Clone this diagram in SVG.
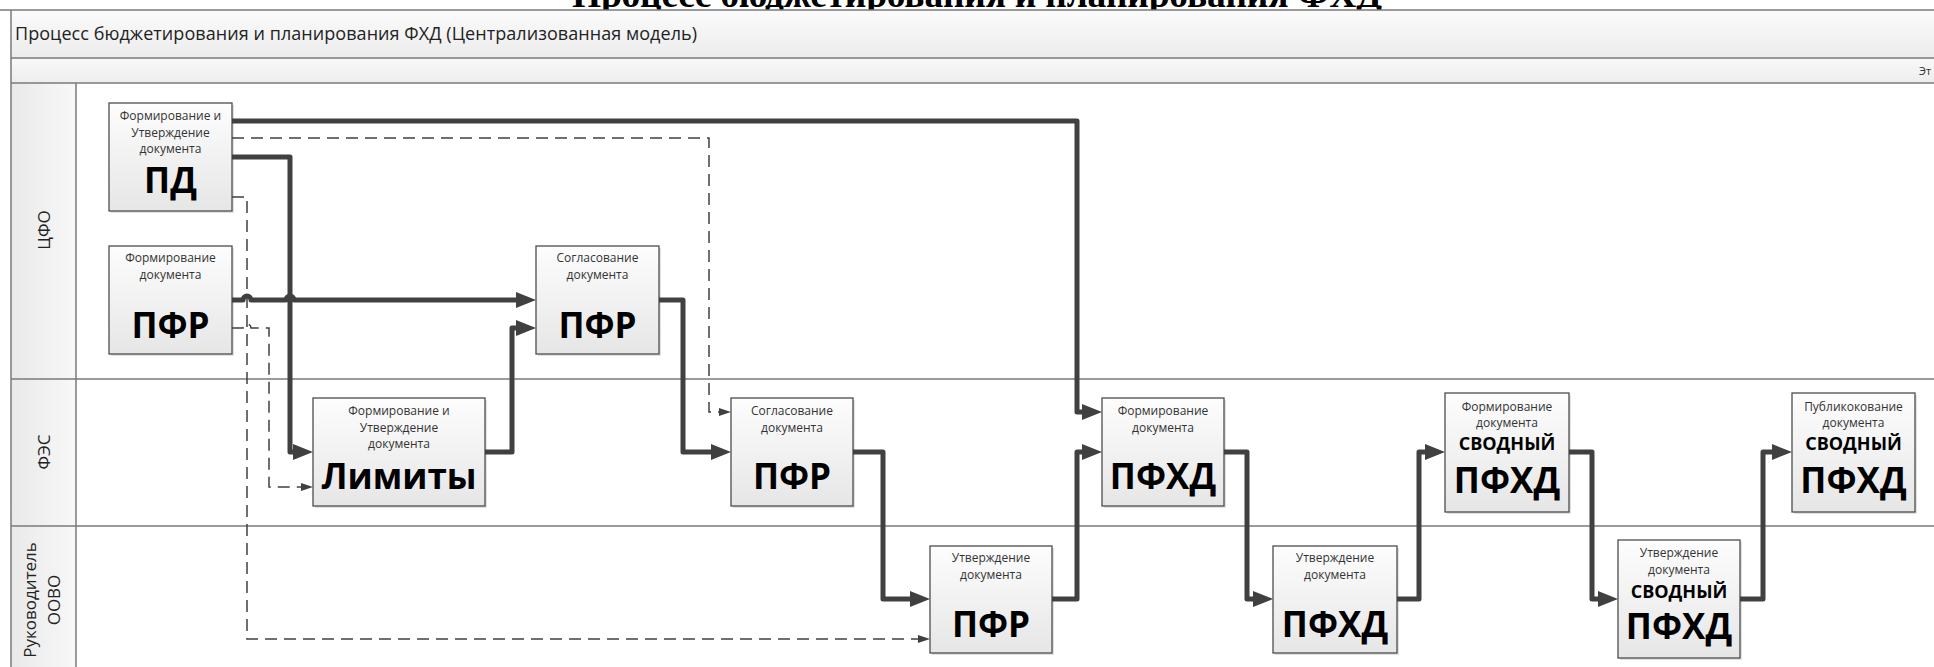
<svg xmlns="http://www.w3.org/2000/svg" width="1934" height="667" viewBox="0 0 1934 667">
<defs>
<linearGradient id="boxFill" x1="0" y1="0" x2="0" y2="1">
<stop offset="0" stop-color="#fdfdfd"/>
<stop offset="1" stop-color="#e6e6e6"/>
</linearGradient>
<linearGradient id="headFill" x1="0" y1="0" x2="0" y2="1">
<stop offset="0" stop-color="#fbfbfb"/>
<stop offset="1" stop-color="#ececec"/>
</linearGradient>
<linearGradient id="phaseFill" x1="0" y1="0" x2="0" y2="1">
<stop offset="0" stop-color="#f8f8f8"/>
<stop offset="1" stop-color="#eeeeee"/>
</linearGradient>
<linearGradient id="laneFill" x1="0" y1="0" x2="1" y2="0">
<stop offset="0" stop-color="#e9e9e9"/>
<stop offset="1" stop-color="#f8f8f8"/>
</linearGradient>
<marker id="arrowThick" markerUnits="userSpaceOnUse" viewBox="0 0 20 16" markerWidth="20" markerHeight="16" refX="4" refY="8" orient="auto">
<path d="M0,0 L20,8 L0,16 z" fill="#404040"/>
</marker>
<marker id="arrowThin" markerUnits="userSpaceOnUse" viewBox="0 0 12 8" markerWidth="12" markerHeight="8" refX="1" refY="4" orient="auto">
<path d="M0,0 L12,4 L0,8 z" fill="#404040"/>
</marker>
<style>
.box{fill:url(#boxFill);stroke:#4d4d4d;stroke-width:1.3}
.shadow{fill:#d4d4d4;opacity:0.7}
.sm{font-family:"Open Sans","Noto Sans",sans-serif;font-size:12px;fill:#333;text-anchor:middle}
.big{font-family:"Open Sans","Noto Sans",sans-serif;font-size:35px;font-weight:bold;fill:#000;text-anchor:middle}
.mid{font-family:"Open Sans","Noto Sans",sans-serif;font-size:18px;font-weight:bold;fill:#000;text-anchor:middle}
.lane{font-family:"Open Sans","Noto Sans",sans-serif;font-size:17px;fill:#222;text-anchor:middle;dominant-baseline:central}
.sep{stroke:#7a7a7a;stroke-width:1.5;fill:none}
.thick{fill:none;stroke:#404040;stroke-width:5;stroke-linejoin:round;marker-end:url(#arrowThick)}
.dash{fill:none;stroke:#404040;stroke-width:1.5;stroke-dasharray:12 7;marker-end:url(#arrowThin)}
</style>
</defs>

<rect x="0" y="0" width="1934" height="667" fill="#ffffff"/>

<g id="title">
<text x="977" y="7" font-family="Liberation Serif, serif" font-size="37.5" font-weight="bold" text-anchor="middle" fill="#000" textLength="810">Процесс бюджетирования и планирования ФХД</text>
</g>

<g id="pool">
<rect x="11" y="10" width="1930" height="48" fill="url(#headFill)"/>
<rect x="11" y="58" width="1930" height="25" fill="url(#phaseFill)"/>
<rect x="11" y="83" width="65" height="590" fill="url(#laneFill)"/>
<line class="sep" x1="0" y1="10" x2="1934" y2="10"/>
<line class="sep" x1="11" y1="58" x2="1934" y2="58"/>
<line class="sep" x1="11" y1="83" x2="1934" y2="83"/>
<line class="sep" x1="11" y1="379" x2="1934" y2="379"/>
<line class="sep" x1="11" y1="526" x2="1934" y2="526"/>
<line class="sep" x1="11" y1="10" x2="11" y2="667"/>
<line class="sep" x1="76" y1="83" x2="76" y2="667"/>
<text x="15" y="40" font-family="Open Sans, Noto Sans, sans-serif" font-size="18" fill="#222" textLength="682">Процесс бюджетирования и планирования ФХД (Централизованная модель)</text>
<text x="1919" y="75" font-family="Open Sans, Noto Sans, sans-serif" font-size="11" fill="#333">Эт</text>
<text class="lane" transform="translate(43,230) rotate(-90)">ЦФО</text>
<text class="lane" transform="translate(43,452) rotate(-90)">ФЭС</text>
<text class="lane" transform="translate(29,600) rotate(-90)">Руководитель</text>
<text class="lane" transform="translate(53,600) rotate(-90)">ООВО</text>
</g>

<g id="node-pd">
<rect class="shadow" x="111" y="105" width="123" height="108"/>
<rect class="box" x="109" y="103" width="123" height="108"/>
<text class="sm" x="170.5" y="120">Формирование и</text>
<text class="sm" x="170.5" y="137">Утверждение</text>
<text class="sm" x="170.5" y="153">документа</text>
<text class="big" x="170.5" y="193">ПД</text>
</g>

<g id="node-pfr-form">
<rect class="shadow" x="111" y="248" width="123" height="108"/>
<rect class="box" x="109" y="246" width="123" height="108"/>
<text class="sm" x="170.5" y="262">Формирование</text>
<text class="sm" x="170.5" y="279">документа</text>
<text class="big" x="170.5" y="338">ПФР</text>
</g>

<g id="node-pfr-agree-cfo">
<rect class="shadow" x="538" y="248" width="123" height="108"/>
<rect class="box" x="536" y="246" width="123" height="108"/>
<text class="sm" x="597.5" y="262">Согласование</text>
<text class="sm" x="597.5" y="279">документа</text>
<text class="big" x="597.5" y="338">ПФР</text>
</g>

<g id="node-limits">
<rect class="shadow" x="315" y="400" width="172" height="108"/>
<rect class="box" x="313" y="398" width="172" height="108"/>
<text class="sm" x="399" y="415">Формирование и</text>
<text class="sm" x="399" y="432">Утверждение</text>
<text class="sm" x="399" y="448">документа</text>
<text class="big" x="399" y="489">Лимиты</text>
</g>

<g id="node-pfr-agree-fes">
<rect class="shadow" x="733" y="400" width="122" height="108"/>
<rect class="box" x="731" y="398" width="122" height="108"/>
<text class="sm" x="792" y="415">Согласование</text>
<text class="sm" x="792" y="432">документа</text>
<text class="big" x="792" y="489">ПФР</text>
</g>

<g id="node-pfr-approve">
<rect class="shadow" x="932" y="548" width="122" height="107"/>
<rect class="box" x="930" y="546" width="122" height="107"/>
<text class="sm" x="991" y="562">Утверждение</text>
<text class="sm" x="991" y="579">документа</text>
<text class="big" x="991" y="637">ПФР</text>
</g>

<g id="node-pfhd-form">
<rect class="shadow" x="1104" y="400" width="122" height="108"/>
<rect class="box" x="1102" y="398" width="122" height="108"/>
<text class="sm" x="1163" y="415">Формирование</text>
<text class="sm" x="1163" y="432">документа</text>
<text class="big" x="1163" y="489">ПФХД</text>
</g>

<g id="node-pfhd-approve">
<rect class="shadow" x="1275" y="548" width="124" height="107"/>
<rect class="box" x="1273" y="546" width="124" height="107"/>
<text class="sm" x="1335" y="562">Утверждение</text>
<text class="sm" x="1335" y="579">документа</text>
<text class="big" x="1335" y="637">ПФХД</text>
</g>

<g id="node-summary-form">
<rect class="shadow" x="1447" y="395" width="124" height="119"/>
<rect class="box" x="1445" y="393" width="124" height="119"/>
<text class="sm" x="1507" y="411">Формирование</text>
<text class="sm" x="1507" y="427">документа</text>
<text class="mid" x="1507" y="450">СВОДНЫЙ</text>
<text class="big" x="1507" y="493">ПФХД</text>
</g>

<g id="node-summary-approve">
<rect class="shadow" x="1620" y="542" width="122" height="118"/>
<rect class="box" x="1618" y="540" width="122" height="118"/>
<text class="sm" x="1679" y="557">Утверждение</text>
<text class="sm" x="1679" y="574">документа</text>
<text class="mid" x="1679" y="598">СВОДНЫЙ</text>
<text class="big" x="1679" y="639">ПФХД</text>
</g>

<g id="node-summary-publish">
<rect class="shadow" x="1794" y="395" width="123" height="119"/>
<rect class="box" x="1792" y="393" width="123" height="119"/>
<text class="sm" x="1853.5" y="411">Публикокование</text>
<text class="sm" x="1853.5" y="427">документа</text>
<text class="mid" x="1853.5" y="450">СВОДНЫЙ</text>
<text class="big" x="1853.5" y="493">ПФХД</text>
</g>

<g id="connectors">
<path class="dash" d="M232,138 H709 V412 H720"/>
<path class="dash" d="M232,197 H247 V639 H919"/>
<path class="dash" d="M232,328 H243 A4,4 0 0 1 251,328 H269 V487 H302"/>
<path class="thick" d="M232,121 H1077 V412 H1086"/>
<path class="thick" d="M232,157 H290 V452 H297"/>
<path class="thick" d="M232,300 H243 A4,4 0 0 1 251,300 H286 A4,4 0 0 1 294,300 H520"/>
<path class="thick" d="M485,452 H512 V328 H520"/>
<path class="thick" d="M659,300 H683 V452 H715"/>
<path class="thick" d="M853,452 H883 V599 H914"/>
<path class="thick" d="M1052,599 H1077 V452 H1086"/>
<path class="thick" d="M1224,452 H1247 V599 H1257"/>
<path class="thick" d="M1397,599 H1419 V452 H1429"/>
<path class="thick" d="M1569,452 H1592 V599 H1602"/>
<path class="thick" d="M1740,599 H1763 V452 H1776"/>
</g>
</svg>
